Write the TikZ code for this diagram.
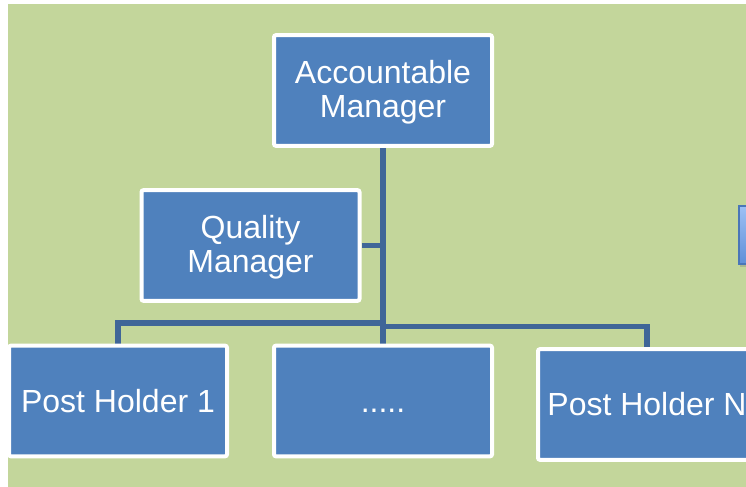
\documentclass[tikz,border=0pt]{standalone}
\usepackage{fontspec}
\setmainfont{Liberation Sans}
\usetikzlibrary{shadows,backgrounds}
\definecolor{panelgreen}{HTML}{C3D69B}
\definecolor{boxblue}{HTML}{4F81BD}
\definecolor{linkblue}{HTML}{3F6698}
\definecolor{tabtop}{HTML}{9DC0F4}
\definecolor{tabbottom}{HTML}{5F8FD8}
\definecolor{tabedge}{HTML}{4A76B8}
% two-line box text, set a little lower than its centred position
\newcommand\twolines[2]{\raisebox{-2.5pt}[\height][\depth]{\begin{tabular}{@{}c@{}}#1\\#2\end{tabular}}}
\begin{document}
\begin{tikzpicture}[x=0.75pt,y=-0.75pt,
  orgbox/.style={draw=white, line width=3pt, fill=boxblue, rounded corners=1.5pt,
    minimum width=163.5pt, minimum height=83pt, inner sep=0pt, align=center,
    text=white, font=\fontsize{24}{25.5}\selectfont},
  link/.style={draw=linkblue, line width=3.8pt}]
  \useasboundingbox (0,0) rectangle (746,486);
  \clip (0,0) rectangle (746,486);
  % boxes
  \node[orgbox] (am)  at (383,90.5)  {\twolines{Accountable}{Manager}};
  \node[orgbox] (qm)  at (250.5,245.5) {\twolines{Quality}{Manager}};
  \node[orgbox] (mid) at (383,401)   {\vphantom{Pl}.....};
  \node[orgbox] (ph1) at (118,401)   {Post Holder 1};
  \node[orgbox] (phn) at (647,404.5) {Post Holder N};
  % junctions of the two bus segments
  \coordinate (jl) at (383,323);
  \coordinate (jr) at (383,326.5);
  \begin{scope}[on background layer]
    % panel
    \fill[panelgreen] (8,4) rectangle (760,500);
    % partly hidden tab at the right edge
    \draw[tabedge, line width=1.5pt, top color=tabtop, bottom color=tabbottom,
      drop shadow={shadow xshift=1pt, shadow yshift=-2pt, opacity=0.35}]
      (739,206) rectangle (770,264);
    % connectors
    \draw[link] (am.south) -- (am.south |- mid.north);
    \draw[link] (qm.east) -- (qm.east -| am.south);
    \draw[link] (ph1.north) |- (jl);
    \draw[link] (phn.north) |- (jr);
  \end{scope}
\end{tikzpicture}
\end{document}
